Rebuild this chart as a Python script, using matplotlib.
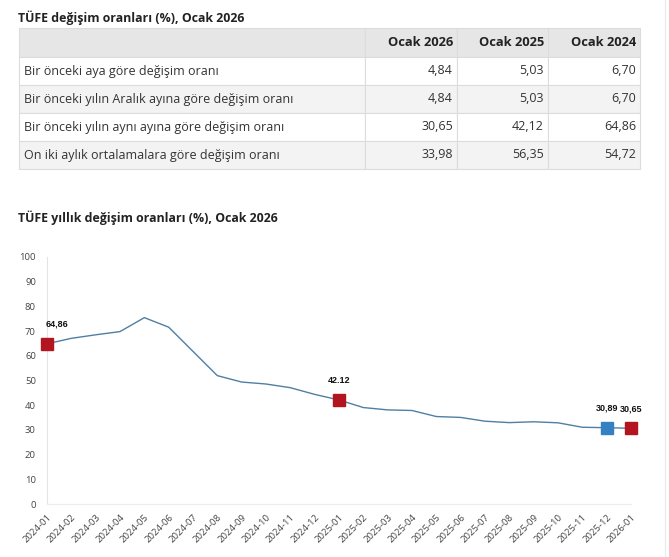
import matplotlib.pyplot as plt
from matplotlib.patches import Rectangle

plt.rcParams['font.family'] = ['Open Sans', 'DejaVu Sans']

# table data
table_title = "TÜFE değişim oranları (%), Ocak 2026"
col_headers = ["Ocak 2026", "Ocak 2025", "Ocak 2024"]
row_labels = [
    "Bir önceki aya göre değişim oranı",
    "Bir önceki yılın Aralık ayına göre değişim oranı",
    "Bir önceki yılın aynı ayına göre değişim oranı",
    "On iki aylık ortalamalara göre değişim oranı",
]
table_values = [
    ["4,84", "5,03", "6,70"],
    ["4,84", "5,03", "6,70"],
    ["30,65", "42,12", "64,86"],
    ["33,98", "56,35", "54,72"],
]

# chart data
chart_title = "TÜFE yıllık değişim oranları (%), Ocak 2026"
months = ["2024-01", "2024-02", "2024-03", "2024-04", "2024-05", "2024-06",
          "2024-07", "2024-08", "2024-09", "2024-10", "2024-11", "2024-12",
          "2025-01", "2025-02", "2025-03", "2025-04", "2025-05", "2025-06",
          "2025-07", "2025-08", "2025-09", "2025-10", "2025-11", "2025-12",
          "2026-01"]
annual_rate = [64.86, 67.07, 68.50, 69.80, 75.45, 71.60, 61.78, 51.97, 49.38,
               48.58, 47.09, 44.38, 42.12, 39.05, 38.10, 37.86, 35.41, 35.05,
               33.52, 32.95, 33.29, 32.87, 31.07, 30.89, 30.65]
red_points = ["2024-01", "2025-01", "2026-01"]
blue_points = ["2025-12"]
point_labels = {"2024-01": "64,86", "2025-01": "42.12",
                "2025-12": "30,89", "2026-01": "30,65"}

W, H = 669, 557
fig = plt.figure(figsize=(W / 100, H / 100), dpi=100)

# ---- table, drawn in pixel coordinates ----
tab = fig.add_axes([0, 0, 1, 1])
tab.set_xlim(0, W)
tab.set_ylim(H, 0)
tab.axis("off")

tab.text(18, 18, table_title, fontsize=8.9, fontweight="bold", va="center", color="#222222")

col_edges = [19, 365, 457, 548, 640]
row_edges = [28, 57, 85, 113, 141, 169]
line_col = "#dcdcdc"

for r in range(len(row_edges) - 1):
    if r == 0:
        fc = "#e6e6e6"
    elif r % 2 == 0:
        fc = "#f3f3f3"
    else:
        fc = "white"
    for c in range(len(col_edges) - 1):
        tab.add_patch(Rectangle((col_edges[c], row_edges[r]),
                                col_edges[c + 1] - col_edges[c],
                                row_edges[r + 1] - row_edges[r],
                                facecolor=fc, edgecolor=line_col, linewidth=0.8))

for c, h in enumerate(col_headers):
    tab.text(col_edges[c + 2] - 4, (row_edges[0] + row_edges[1]) / 2, h,
             fontsize=9.3, fontweight="bold", ha="right", va="center", color="#222222")

for r, label in enumerate(row_labels):
    yc = (row_edges[r + 1] + row_edges[r + 2]) / 2
    tab.text(col_edges[0] + 5, yc, label, fontsize=9, va="center", color="#333333")
    for c, v in enumerate(table_values[r]):
        tab.text(col_edges[c + 2] - 4, yc, v, fontsize=9, ha="right", va="center",
                 color="#333333")

tab.text(18, 218, chart_title, fontsize=8.9, fontweight="bold", va="center", color="#222222")

# faint page border on the right
tab.plot([665, 665], [0, H], color="#ececec", linewidth=1.0)

# ---- line chart ----
left, right, top, bottom = 47, 631, 257, 504
ax = fig.add_axes([left / W, 1 - bottom / H, (right - left) / W, (bottom - top) / H])
x = list(range(len(months)))
ax.plot(x, annual_rate, color="#4f7fa3", linewidth=1.0, zorder=2)

for m in red_points:
    i = months.index(m)
    ax.plot(i, annual_rate[i], marker="s", markersize=8.5, color="#b2151f",
            linestyle="none", clip_on=False, zorder=3)
for m in blue_points:
    i = months.index(m)
    ax.plot(i, annual_rate[i], marker="s", markersize=8.5, color="#3480c2",
            linestyle="none", clip_on=False, zorder=3)

for m, txt in point_labels.items():
    i = months.index(m)
    dx = 7 if i == 0 else 0
    ax.annotate(txt, (i, annual_rate[i]), xytext=(dx, 11), textcoords="offset points",
                ha="center", va="bottom", fontsize=6.5, fontweight="bold",
                family=["Liberation Sans", "DejaVu Sans"], color="#111111")

ax.set_xlim(0, len(months) - 1)
ax.set_ylim(0, 100)
ax.set_yticks(range(0, 101, 10))
ax.set_xticks(x)
ax.set_xticklabels(months, rotation=45, ha="right", rotation_mode="anchor")
ax.tick_params(axis="both", length=0, labelsize=6.8, labelcolor="#444444")
ax.tick_params(axis="y", pad=8)
ax.tick_params(axis="x", pad=6)

for s in ["top", "right"]:
    ax.spines[s].set_visible(False)
ax.spines["left"].set_color("#e4e4e4")
ax.spines["bottom"].set_color("#ececec")
ax.patch.set_alpha(0)

plt.savefig("out.png", dpi=100)
plt.close()
